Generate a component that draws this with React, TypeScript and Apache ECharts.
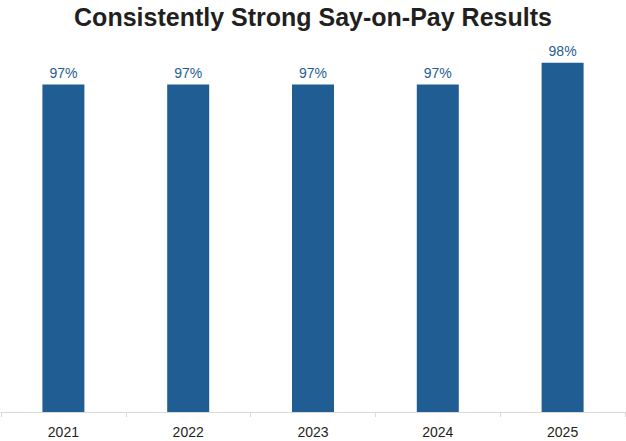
import React, { useEffect, useRef } from "react";
import * as echarts from "echarts";

const categories = ["2021", "2022", "2023", "2024", "2025"];
const values = [97, 97, 97, 97, 98];

export default function App() {
  const ref = useRef<HTMLDivElement>(null);
  useEffect(() => {
    if (!ref.current) return;
    const chart = echarts.init(ref.current, undefined, { renderer: "svg" });
    chart.setOption({
      animation: false,
      backgroundColor: "#ffffff",
      title: {
        text: "Consistently Strong Say-on-Pay Results",
        left: "center",
        top: -1,
        textStyle: {
          fontFamily: "Liberation Sans, Arial, sans-serif",
          fontWeight: "bold",
          fontSize: 25,
          color: "#231f20",
        },
      },
      grid: { left: 1, right: 1, top: 19, bottom: 29, containLabel: false },
      xAxis: {
        type: "category",
        data: categories,
        axisLine: { lineStyle: { color: "#d9d9d9", width: 1 } },
        axisTick: { show: true, length: 5, lineStyle: { color: "#d9d9d9" } },
        axisLabel: {
          color: "#231f20",
          fontSize: 14,
          fontFamily: "Liberation Sans, Arial, sans-serif",
          margin: 13,
        },
      },
      yAxis: {
        type: "value",
        min: 82,
        max: 100,
        show: false,
        splitLine: { show: false },
      },
      series: [
        {
          type: "bar",
          data: values,
          barWidth: 42,
          itemStyle: { color: "#1f5d92" },
          label: {
            show: true,
            position: "top",
            distance: 5,
            formatter: "{c}%",
            color: "#1f5d92",
            fontSize: 14,
            fontFamily: "Liberation Sans, Arial, sans-serif",
          },
        },
      ],
    });
    return () => chart.dispose();
  }, []);
  return (
    <div
      ref={ref}
      style={{ position: "absolute", left: 0, top: 0, width: 626, height: 441 }}
    />
  );
}
